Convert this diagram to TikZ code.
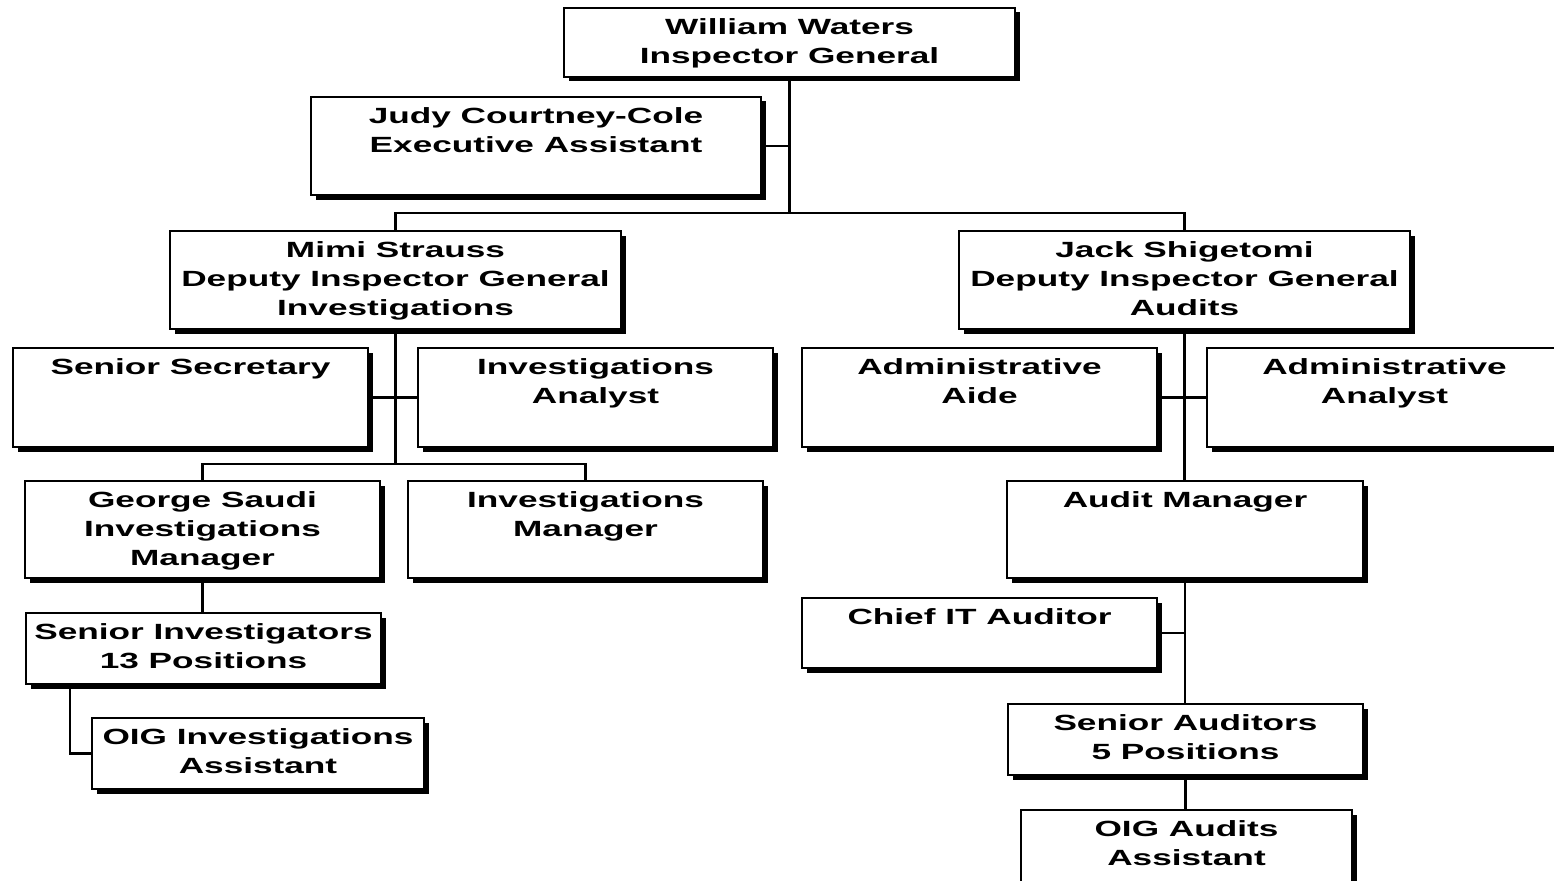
\documentclass[tikz,border=0pt]{standalone}
\usepackage{fontspec}
\newfontfamily\orgfont{Liberation Sans Bold}[FakeStretch=1.6]
\usetikzlibrary{shadows}
\pgfdeclarelayer{background}
\pgfsetlayers{background,main}
\tikzset{
  orgbox/.style={draw, line width=2pt, fill=white, inner sep=0pt,
    drop shadow={shadow xshift=4.5pt, shadow yshift=-4.5pt, fill=black, opacity=1}},
  orgtext/.style={inner sep=0pt, align=center, anchor=north,
    font=\orgfont\fontsize{22}{29}\selectfont},
  link/.style={line width=2.4pt},
}
\newcommand\obox[6]{%
  \node[orgbox, minimum width={(#4-#2)*1pt}, minimum height={(#5-#3)*1pt}]
    (#1) at ({(#2+#4)/2},{(#3+#5)/2}) {};
  \node[orgtext] (#1-t) at ([yshift=-11.4pt]#1.north) {#6};}
\begin{document}
\begin{tikzpicture}[x=1pt,y=-1pt]
\path[use as bounding box] (0,0) rectangle (1554,880);
\clip (0,0) rectangle (1554,880);
\obox{ww}{564}{8}{1015}{77}{William Waters\\Inspector General}
\obox{jcc}{311}{97}{761}{195}{Judy Courtney-Cole\\Executive Assistant}
\obox{ms}{170}{231}{621}{329}{Mimi Strauss\\Deputy Inspector General\\Investigations}
\obox{js}{959}{231}{1410}{329}{Jack Shigetomi\\Deputy Inspector General\\Audits}
\obox{ss}{13}{348}{368}{447}{Senior Secretary}
\obox{ia}{418}{348}{773}{447}{Investigations\\Analyst}
\obox{aa}{802}{348}{1157}{447}{Administrative\\Aide}
\obox{aan}{1207}{348}{1562}{447}{Administrative\\Analyst}
\obox{gs}{25}{481}{380}{578}{George Saudi\\Investigations\\Manager}
\obox{im}{408}{481}{763}{578}{Investigations\\Manager}
\obox{am}{1007}{481}{1363}{578}{Audit Manager}
\obox{si}{26}{613}{381}{684}{Senior Investigators\\13 Positions}
\obox{oia}{92}{718}{424}{789}{OIG Investigations\\Assistant}
\obox{cit}{802}{598}{1157}{668}{Chief IT Auditor}
\obox{sa}{1008}{704}{1363}{775}{Senior Auditors\\5 Positions}
\obox{oaa}{1021}{810}{1352}{885}{OIG Audits\\Assistant}
\coordinate (b1) at (789.5,213);
\coordinate (b2) at (395.5,464);
\coordinate (k1) at (70,700);
\begin{pgfonlayer}{background}
\draw[link] (ww.south) -- (b1);
\draw[link] (jcc.east) -- (jcc.east -| b1);
\draw[link] (ms.north) |- (b1) -| (js.north);
\draw[link] (ms.south) -- (b2);
\draw[link] (ss.east) -- (ia.west);
\draw[link] (gs.north) |- (b2) -| (im.north);
\draw[link] (gs.south) -- (gs.south |- si.north);
\draw[link] (k1 |- si.south) |- (oia.west);
\draw[link] (js.south) -- (js.south |- am.north);
\draw[link] (aa.east) -- (aan.west);
\draw[link] (am.south) -- (am.south |- sa.north);
\draw[link] (cit.east) -- (cit.east -| am.south);
\draw[link] (sa.south) -- (sa.south |- oaa.north);
\end{pgfonlayer}
\end{tikzpicture}
\end{document}
